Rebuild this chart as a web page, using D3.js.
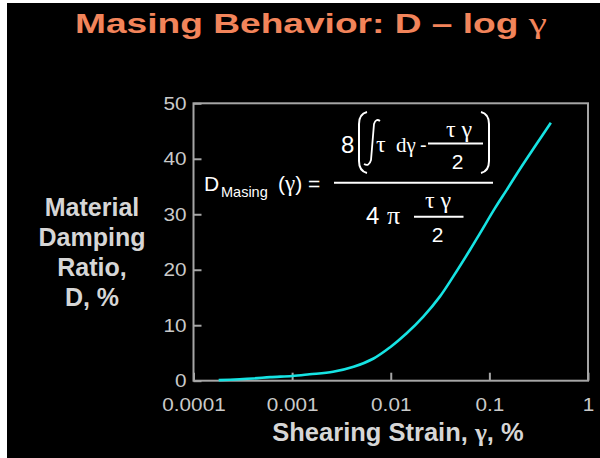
<!DOCTYPE html>
<html>
<head>
<meta charset="utf-8">
<script src="https://cdn.jsdelivr.net/npm/d3@7"></script>
<style>
  html, body { margin: 0; padding: 0; background: #ffffff; }
  svg { display: block; }
</style>
</head>
<body>
<svg id="chart" width="600" height="458"></svg>
<script>
// Masing damping curve: D (%) versus shearing strain (%)
const strain = [0.00018, 0.0004, 0.0006, 0.001, 0.0015, 0.0026, 0.0042, 0.0067, 0.0098,
                0.0145, 0.0214, 0.0316, 0.0431, 0.0637, 0.0805, 0.114, 0.15, 0.205, 0.302, 0.42];
const damping = [0.1, 0.4, 0.65, 0.85, 1.15, 1.6, 2.5, 4.0, 6.0,
                 8.55, 11.55, 15.2, 18.8, 23.6, 26.6, 31.1, 34.4, 38.2, 42.7, 46.5];
const xTicks = [0.0001, 0.001, 0.01, 0.1, 1];
const xTickLabels = ["0.0001", "0.001", "0.01", "0.1", "1"];
const yTicks = [0, 10, 20, 30, 40, 50];

const svg = d3.select("#chart");

// slide background
svg.append("rect").attr("x", 7).attr("y", 3).attr("width", 593).attr("height", 455)
  .attr("fill", "#000000");

const plot = { left: 193.5, right: 588, top: 103.3, bottom: 380.7 };
const x = d3.scaleLog().domain([0.0001, 1]).range([plot.left, plot.right]);
const y = d3.scaleLinear().domain([0, 50]).range([plot.bottom, plot.top]);

const frameColor = "#a6a6a6";
const tickText = "#cacaca";
const labelText = "#d6d6d6";
const sans = "Liberation Sans, Arial, sans-serif";
const greek = "Liberation Serif, Times New Roman, serif";

// title
const title = svg.append("text")
  .attr("x", 75).attr("y", 33)
  .attr("font-family", sans)
  .attr("font-weight", "bold").attr("font-size", 27)
  .attr("fill", "#f2845a")
  .attr("textLength", 472).attr("lengthAdjust", "spacingAndGlyphs");
title.append("tspan").text("Masing Behavior: D \u2013 log ");
title.append("tspan").attr("font-family", greek).attr("font-weight", "normal")
  .attr("font-size", 30).text("\u03B3");

// axes
const xAxis = d3.axisBottom(x).tickValues(xTicks)
  .tickFormat((d, i) => xTickLabels[i]).tickSize(-8).tickPadding(17);
const yAxis = d3.axisLeft(y).tickValues(yTicks).tickSize(-8).tickPadding(7);

const gx = svg.append("g").attr("transform", `translate(0,${plot.bottom})`).call(xAxis);
const gy = svg.append("g").attr("transform", `translate(${plot.left},0)`).call(yAxis);

[gx, gy].forEach(g => {
  g.select(".domain").remove();
  g.selectAll(".tick line").attr("stroke", frameColor).attr("stroke-width", 2);
  g.selectAll(".tick text")
    .attr("fill", tickText)
    .attr("font-family", sans)
    .attr("font-size", 18.5)
    .each(function () {
      const w = this.getComputedTextLength();
      d3.select(this).attr("textLength", w * 1.12).attr("lengthAdjust", "spacingAndGlyphs");
    });
});

// plot frame
svg.append("rect")
  .attr("x", plot.left).attr("y", plot.top)
  .attr("width", plot.right - plot.left).attr("height", plot.bottom - plot.top)
  .attr("fill", "none").attr("stroke", frameColor).attr("stroke-width", 2);

// damping curve
const pts = strain.map((s, i) => [s, damping[i]]);
svg.append("path")
  .datum(pts)
  .attr("fill", "none")
  .attr("stroke", "#16e3e3")
  .attr("stroke-width", 2.6)
  .attr("d", d3.line().x(d => x(d[0])).y(d => y(d[1])).curve(d3.curveCatmullRom.alpha(0.5)));

// axis titles
const xTitle = svg.append("text")
  .attr("x", 398).attr("y", 440.5)
  .attr("text-anchor", "middle")
  .attr("font-family", sans)
  .attr("font-weight", "bold").attr("font-size", 25.5)
  .attr("fill", labelText);
xTitle.append("tspan").text("Shearing Strain, ");
xTitle.append("tspan").attr("font-family", greek).text("\u03B3");
xTitle.append("tspan").text(", %");

const yLabelLines = ["Material", "Damping", "Ratio,", "D, %"];
svg.append("text")
  .attr("font-family", sans)
  .attr("font-weight", "bold").attr("font-size", 25)
  .attr("fill", labelText)
  .attr("text-anchor", "middle")
  .selectAll("tspan").data(yLabelLines).join("tspan")
  .attr("x", 92).attr("y", (d, i) => 216 + i * 30)
  .text(d => d);

// Masing damping formula
const f = svg.append("g").attr("fill", "#ffffff").attr("font-family", sans);

f.append("text").attr("x", 204).attr("y", 190.5).attr("font-size", 21).text("D");
f.append("text").attr("x", 221).attr("y", 197).attr("font-size", 14.5).text("Masing");
const lhs = f.append("text").attr("x", 278).attr("y", 190.5).attr("font-size", 21);
lhs.append("tspan").text("(");
lhs.append("tspan").attr("font-family", greek).attr("font-size", 23).text("\u03B3");
lhs.append("tspan").text(") =");

// main fraction bar
f.append("line").attr("x1", 334).attr("x2", 493).attr("y1", 182.7).attr("y2", 182.7)
  .attr("stroke", "#ffffff").attr("stroke-width", 2);

// numerator
f.append("text").attr("x", 341).attr("y", 153).attr("font-size", 24).text("8");
f.append("path").attr("d", "M367,112 Q359,114 359,124 L359,161 Q359,171 367,173")
  .attr("fill", "none").attr("stroke", "#ffffff").attr("stroke-width", 2);
f.append("path").attr("d", "M481,112 Q489,114 489,124 L489,161 Q489,171 481,173")
  .attr("fill", "none").attr("stroke", "#ffffff").attr("stroke-width", 2);
// integral sign
f.append("path").attr("d", "M380,121 Q376,118 374,124 L371,160 Q369,167 364,164")
  .attr("fill", "none").attr("stroke", "#ffffff").attr("stroke-width", 1.8);
f.append("text").attr("x", 376).attr("y", 152).attr("font-size", 24)
  .attr("font-family", greek).text("\u03C4");
f.append("text").attr("x", 396).attr("y", 152).attr("font-size", 21)
  .attr("font-family", greek).text("d\u03B3");
f.append("text").attr("x", 420).attr("y", 152).attr("font-size", 20).text("-");
f.append("line").attr("x1", 428).attr("x2", 483).attr("y1", 143.5).attr("y2", 143.5)
  .attr("stroke", "#ffffff").attr("stroke-width", 2);
f.append("text").attr("x", 459).attr("y", 137).attr("font-size", 24)
  .attr("text-anchor", "middle").attr("font-family", greek).text("\u03C4 \u03B3");
f.append("text").attr("x", 457.5).attr("y", 168.5).attr("font-size", 21)
  .attr("text-anchor", "middle").text("2");

// denominator
f.append("text").attr("x", 366).attr("y", 224).attr("font-size", 24).text("4");
f.append("text").attr("x", 387).attr("y", 224).attr("font-size", 26)
  .attr("font-family", greek).text("\u03C0");
f.append("line").attr("x1", 414).attr("x2", 463.5).attr("y1", 216.7).attr("y2", 216.7)
  .attr("stroke", "#ffffff").attr("stroke-width", 2);
f.append("text").attr("x", 438).attr("y", 208).attr("font-size", 24)
  .attr("text-anchor", "middle").attr("font-family", greek).text("\u03C4 \u03B3");
f.append("text").attr("x", 437.5).attr("y", 241.5).attr("font-size", 21)
  .attr("text-anchor", "middle").text("2");
</script>
</body>
</html>
